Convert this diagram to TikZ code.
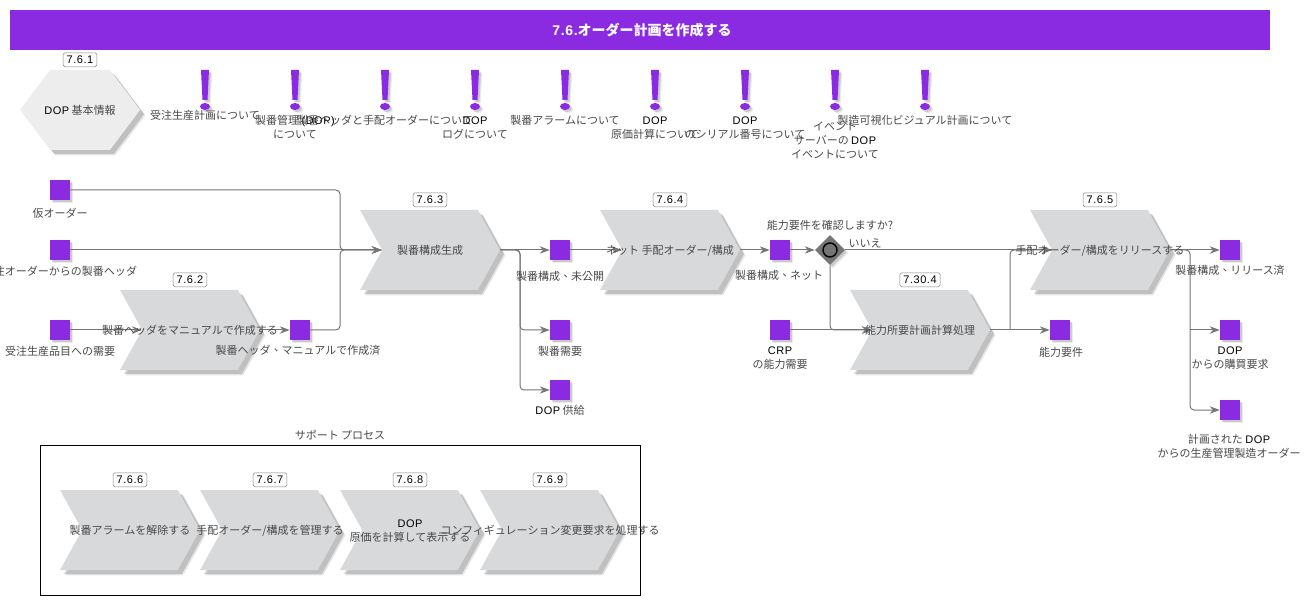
\documentclass[tikz,border=0pt]{standalone}
\usepackage{fontspec}
\setmainfont{Noto Sans CJK TC}
\newfontfamily\latfont[LetterSpace=5]{Liberation Sans}
\newcommand{\lat}[1]{{\latfont\color{black}#1}}
\usetikzlibrary{arrows.meta,positioning,shadows,shapes.geometric,shapes.symbols}
\definecolor{violetfill}{HTML}{8A2BE2}
\definecolor{procfill}{HTML}{D8D9DB}
\definecolor{hexfill}{HTML}{EDEDED}
\definecolor{linegray}{HTML}{757575}
\definecolor{textgray}{HTML}{484848}
\tikzset{
  softshadow/.style={
    drop shadow={shadow xshift=4pt,shadow yshift=-4pt,fill=black,opacity=.1},
    drop shadow={shadow xshift=3pt,shadow yshift=-3pt,fill=black,opacity=.16}},
  smallshadow/.style={
    drop shadow={shadow xshift=2.4pt,shadow yshift=-2.4pt,fill=black,opacity=.08},
    drop shadow={shadow xshift=1.5pt,shadow yshift=-1.5pt,fill=black,opacity=.14}},
  proc/.style={signal, signal from=west, signal to=east, signal pointer angle=122, inner sep=0pt,
    minimum width=105pt, minimum height=60pt, fill=procfill, softshadow},
  infohex/.style={signal, signal to=west and east, signal pointer angle=106, inner sep=0pt,
    minimum width=90pt, minimum height=60pt, fill=hexfill, softshadow},
  item/.style={rectangle, fill=violetfill, minimum size=15pt, inner sep=0pt, smallshadow},
  lbl/.style={align=center, inner sep=0pt, yshift=-.5pt, text=textgray, font=\fontsize{8.25}{10.5}\selectfont},
  tag/.style={rectangle, draw=gray, fill=white, rounded corners=1.2pt, inner xsep=2.6pt, inner ysep=0pt,
    minimum height=10.5pt, text=black, font=\latfont\fontsize{8.25}{10}\selectfont},
  flow/.style={-{Stealth[length=7.5pt,width=5.5pt]}, draw=linegray, line width=.75pt, rounded corners=3pt},
  warn/.pic={
    \fill[violetfill, smallshadow] (-4,0) -- (4,0) -- (2.5,30) -- (-2.5,30) -- cycle;
    \fill[violetfill, smallshadow] (0,36.5) ellipse [x radius=5,y radius=3.5];
  }
}
\begin{document}
\begin{tikzpicture}[x=.75pt, y=-.75pt]
\useasboundingbox (0,0) rectangle (1312,605);
% Title
\node[rectangle, fill=violetfill, minimum width=945pt, minimum height=30pt, inner sep=0pt, text=white,
  font=\bfseries\fontsize{10.5}{12}\selectfont] (title) at (640,30) {\hspace{3pt}{\latfont\bfseries 7.6.}オーダー計画を作成する};

% Info row
\node[infohex] (info) at (80,110) {};
\node[tag, above=2pt of info] (infotag) {7.6.1};
\node[lbl] (infotxt) at (80,110) {\lat{DOP} 基本情報};
\pic at (205,70) {warn};
\pic at (295,70) {warn};
\pic at (385,70) {warn};
\pic at (475,70) {warn};
\pic at (565,70) {warn};
\pic at (655,70) {warn};
\pic at (745,70) {warn};
\pic at (835,70) {warn};
\pic at (925,70) {warn};
\node[lbl] (note1) at (205,115) {受注生産計画について};
\node[lbl] (note2) at (295,126) {製番管理 \lat{(DOP)}\\について};
\node[lbl] (note3) at (385,120) {製番ヘッダと手配オーダーについて};
\node[lbl] (note4) at (475,127) {\lat{DOP}\\ログについて};
\node[lbl] (note5) at (565,120) {製番アラームについて};
\node[lbl] (note6) at (655,127) {\lat{DOP}\\原価計算について};
\node[lbl] (note7) at (745,127) {\lat{DOP}\\のシリアル番号について};
\node[lbl] (note8) at (835,140) {イベント\\サーバーの \lat{DOP}\\イベントについて};
\node[lbl] (note9) at (925,120) {製造可視化ビジュアル計画について};

% Process steps
\node[proc] (manual) at (190,330) {};
\node[proc] (build) at (430,250) {};
\node[proc] (net) at (670,250) {};
\node[proc] (crp) at (920,330) {};
\node[proc] (release) at (1100,250) {};
\node[tag, above=2pt of manual] (manualtag) {7.6.2};
\node[tag, above=2pt of build] (buildtag) {7.6.3};
\node[tag, above=2pt of net] (nettag) {7.6.4};
\node[tag, above=2pt of crp] (crptag) {7.30.4};
\node[tag, above=2pt of release] (releasetag) {7.6.5};

% Items
\node[item] (prov) at (60,190) {};
\node[item] (hdr) at (60,250) {};
\node[item] (demand) at (60,330) {};
\node[item] (made) at (300,330) {};
\node[item] (unpub) at (560,250) {};
\node[item] (pegdem) at (560,330) {};
\node[item] (pegsup) at (560,390) {};
\node[item] (netted) at (780,250) {};
\node[item] (crpdem) at (780,330) {};
\node[item] (capreq) at (1060,330) {};
\node[item] (rel) at (1230,250) {};
\node[item] (buy) at (1230,330) {};
\node[item] (plan) at (1230,410) {};

% Gateway
\node[diamond, fill=linegray, minimum width=22.5pt, minimum height=22.5pt, inner sep=0pt, smallshadow] (gate) at (830,250) {};
\node[circle, draw=black, line width=1.1pt, minimum size=10.5pt, inner sep=0pt] (gatering) at (gate.center) {};

% Junctions
\coordinate (merge) at (340,250);
\coordinate (split) at (520,250);
\coordinate (capup) at (1010,330);
\coordinate (capin) at (1010,250);
\coordinate (relsplit) at (1190,250);
\coordinate (relbuy) at (1190,330);

% Connections
\draw[flow] (prov) -| (merge) -- (build.west);
\draw[flow] (hdr) -- (build.west);
\draw[flow] (made) -| (merge) -- (build.west);
\draw[flow] (demand) -- (manual.west);
\draw[flow] (manual.east) -- (made);
\draw[flow] (build.east) -- (unpub);
\draw[flow] (build.east) -- (split) |- (pegdem);
\draw[flow] (build.east) -- (split) |- (pegsup);
\draw[flow] (unpub) -- (net.west);
\draw[flow] (net.east) -- (netted);
\draw[flow] (netted) -- (gate);
\draw[flow] (gate) -- (release.west);
\draw[flow] (gate) |- (crp.west);
\draw[flow] (crpdem) -- (crp.west);
\draw[flow] (crp.east) -- (capreq);
\draw[flow] (capup) -- (capin) -- (release.west);
\draw[flow] (release.east) -- (rel);
\draw[flow] (release.east) -- (relsplit) |- (plan);
\draw[flow] (relbuy) -- (buy);

% Texts
\node[lbl] (manualtxt) at (190,330) {製番ヘッダをマニュアルで作成する};
\node[lbl] (buildtxt) at (430,250) {製番構成生成};
\node[lbl] (nettxt) at (670,250) {ネット 手配オーダー/構成};
\node[lbl] (crptxt) at (920,330) {能力所要計画計算処理};
\node[lbl] (releasetxt) at (1100,250) {手配オーダー/構成をリリースする};
\node[lbl] (provtxt) at (60,213) {仮オーダー};
\node[lbl] (hdrtxt) at (60,271) {受注オーダーからの製番ヘッダ};
\node[lbl] (demandtxt) at (60,351) {受注生産品目への需要};
\node[lbl] (madetxt) at (298,350) {製番ヘッダ、マニュアルで作成済};
\node[lbl] (unpubtxt) at (560,276) {製番構成、未公開};
\node[lbl] (pegdemtxt) at (560,351) {製番需要};
\node[lbl] (pegsuptxt) at (560,410) {\lat{DOP} 供給};
\node[lbl] (nettedtxt) at (779,275) {製番構成、ネット};
\node[lbl] (crpdemtxt) at (780,357) {\lat{CRP}\\の能力需要};
\node[lbl] (capreqtxt) at (1061,352) {能力要件};
\node[lbl] (reltxt) at (1230,270) {製番構成、リリース済};
\node[lbl] (buytxt) at (1230,357) {\lat{DOP}\\からの購買要求};
\node[lbl] (plantxt) at (1229,446) {計画された \lat{DOP}\\からの生産管理製造オーダー};
\node[lbl] (gatetxt) at (830,225) {能力要件を確認しますか?};
\node[lbl] (notxt) at (865,243) {いいえ};

% Support processes
\node[rectangle, draw=black, line width=.75pt, minimum width=450pt, minimum height=112.5pt, inner sep=0pt] (support) at (340.5,520.5) {};
\node[lbl] (supporttxt) at (340,434) {サポート プロセス};
\node[proc] (clear) at (130,530) {};
\node[proc] (manage) at (270,530) {};
\node[proc] (cost) at (410,530) {};
\node[proc] (change) at (550,530) {};
\node[tag, above=2pt of clear] (cleartag) {7.6.6};
\node[tag, above=2pt of manage] (managetag) {7.6.7};
\node[tag, above=2pt of cost] (costtag) {7.6.8};
\node[tag, above=2pt of change] (changetag) {7.6.9};
\node[lbl] (cleartxt) at (130,530) {製番アラームを解除する};
\node[lbl] (managetxt) at (270,530) {手配オーダー/構成を管理する};
\node[lbl] (costtxt) at (410,530) {\lat{DOP}\\原価を計算して表示する};
\node[lbl] (changetxt) at (550,530) {コンフィギュレーション変更要求を処理する};
\end{tikzpicture}
\end{document}
